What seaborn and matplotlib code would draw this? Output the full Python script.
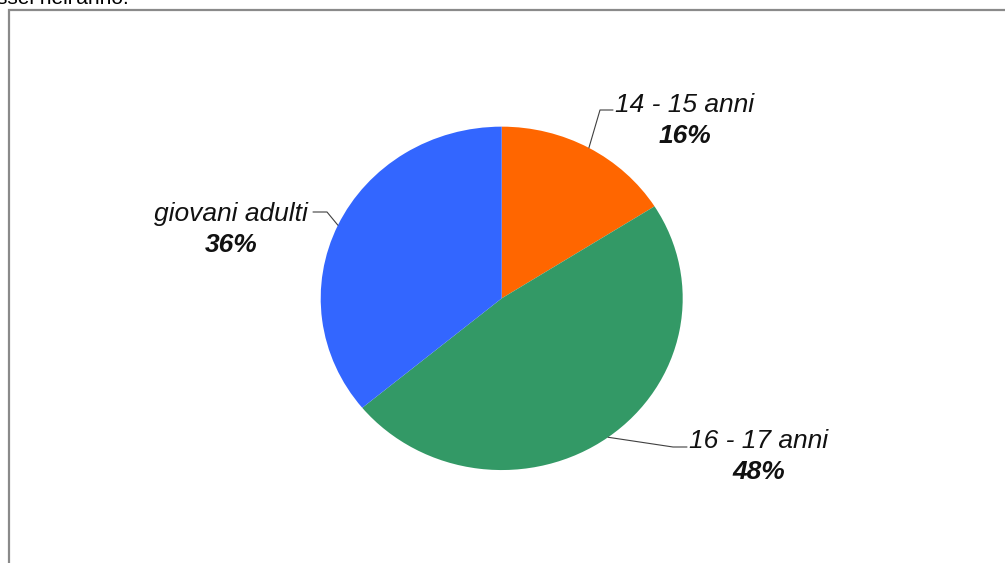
import matplotlib
matplotlib.use("Agg")
import matplotlib.pyplot as plt
import seaborn as sns
import numpy as np

# data
categories = ["14 - 15 anni", "16 - 17 anni", "giovani adulti"]
shares = [16, 48, 36]
colors = ["#FF6600", "#339966", "#3366FF"]

sns.set_theme(style="white")
plt.rcParams["font.family"] = ["Liberation Sans", "DejaVu Sans"]

W, H = 1005, 563
fig = plt.figure(figsize=(W / 100, H / 100), dpi=100)

# pie box in pixels (slightly squashed vertically like the original)
cx, cy, rx, ry = 501.7, 298.35, 181.0, 171.7
ax = fig.add_axes([(cx - rx) / W, (H - cy - ry) / H, 2 * rx / W, 2 * ry / H])
wedges, _ = ax.pie(shares, colors=colors, startangle=90, counterclock=False,
                   radius=1, center=(0, 0), wedgeprops=dict(linewidth=0))
ax.set_xlim(-1, 1)
ax.set_ylim(-1, 1)
ax.set_aspect("auto")
ax.axis("off")

# overlay in pixel coordinates for frame, leader lines and labels
ov = fig.add_axes([0, 0, 1, 1], facecolor="none")
ov.set_xlim(0, W)
ov.set_ylim(H, 0)
ov.axis("off")

# chart frame (cut off on the right and bottom)
ov.plot([8.5, 8.5, W + 5], [H + 5, 10, 10], color="#8a8a8a", lw=1.6,
        solid_joinstyle="miter", clip_on=False)
# cropped caption of the page above the chart
ov.text(129, 4, "ssei nell'anno.", ha="right", va="baseline", fontsize=15,
        color="black")

# label layout: elbow, end of leader, text centre
layout = {
    "14 - 15 anni": ((600, 110), (613, 110), (685, 105)),
    "16 - 17 anni": ((673, 447), (687, 447), (759, 441)),
    "giovani adulti": ((327, 212), (313, 212), (231, 214)),
}

for w, name, val in zip(wedges, categories, shares):
    mid = np.deg2rad((w.theta1 + w.theta2) / 2)
    ax_x = cx + rx * np.cos(mid)
    ax_y = cy - ry * np.sin(mid)
    elbow, end, tpos = layout[name]
    ov.plot([ax_x, elbow[0], end[0]], [ax_y, elbow[1], end[1]],
            color="#404040", lw=0.8)
    ov.text(tpos[0], tpos[1], name, ha="center", va="center", fontsize=19,
            style="italic", color="#111111")
    ov.text(tpos[0], tpos[1] + 31, f"{val}%", ha="center", va="center",
            fontsize=19, style="italic", weight="bold", color="#111111")

fig.savefig("out.png", dpi=100)
